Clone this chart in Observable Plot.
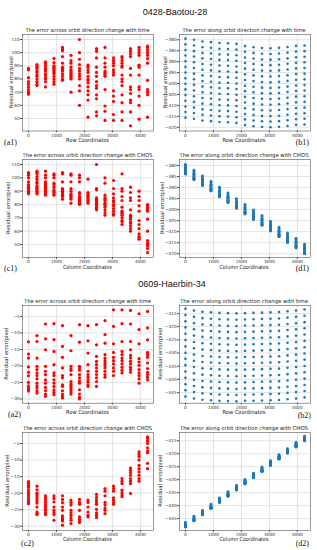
<!DOCTYPE html>
<html><head><meta charset="utf-8">
<script src="https://cdn.jsdelivr.net/npm/d3@7"></script>
<script src="https://cdn.jsdelivr.net/npm/@observablehq/plot@0.6"></script>
<style>
html,body{margin:0;padding:0;background:#fff;}
#fig{position:relative;width:317px;height:550px;overflow:hidden;background:#fff;}
#fig svg{position:absolute;}
</style></head><body><div id="fig"></div>
<script>
// ---- coordinates (row / column position of the 15 x 15 check points) ----
const coords = [0, 304, 608, 912, 1216, 1520, 1824, 2128, 2432, 2736, 3040, 3344, 3648, 3952, 4256];
const xTicks = [0, 1000, 2000, 3000, 4000];
const yTicksA1 = [50, 60, 70, 80, 90, 100, 110];
const yTicksB1 = [-380, -385, -390, -395, -400, -405, -410, -415, -420];
const yTicksA2 = [-5, -10, -15, -20, -25, -30];
const yTicksB2 = [-415, -420, -425, -430, -435, -440, -445];

// ---- 0428-Baotou-28 : across-orbit error grouped by row coordinate (a1) ----
const acrossTime1 = [
  [88, 87, 81, 78, 76, 74, 72, 70, 68.5],
  [91, 90, 89, 88, 86, 85, 83, 82, 80, 78, 76, 75],
  [93, 91.5, 90, 88, 87, 86, 84, 83, 81, 80, 78, 74],
  [95.5, 92.5, 90, 89, 88, 87, 86, 85, 84, 82, 80, 78, 76],
  [104, 103, 101.5, 97, 92, 89, 88, 87, 86, 84, 82, 80, 79],
  [98, 94, 92, 89, 87, 86, 85, 84, 83, 82, 81, 80, 70],
  [110, 100, 95, 91, 88, 86, 84, 82, 80, 75, 71, 60],
  [90.5, 89, 87, 85, 82, 80, 79, 77, 74, 71, 68, 64, 51],
  [103, 101, 96, 89, 85, 82, 78, 75, 73, 68, 65, 55, 52],
  [104, 96, 92, 89, 86, 85, 84, 83, 82, 72, 59.5, 55.5, 48.5],
  [96, 94, 92, 90, 87, 85, 83, 71, 67, 63, 53, 48.5],
  [97, 96, 94, 92, 90, 89, 83, 80, 78, 75, 68, 62, 55, 48.5],
  [103, 101, 99, 97, 88, 83, 74, 72, 69, 64, 62, 55, 44.5],
  [104, 102, 100, 98, 90.5, 89, 83, 74, 72, 67, 60, 49.5],
  [105, 104, 102, 100, 98, 95.5, 92, 79, 72, 70, 68, 51]
];
// ---- 0428-Baotou-28 : across-orbit error grouped by column coordinate (c1) ----
const acrossCmos1 = [
  [104, 103, 102, 100, 97, 95, 94, 93, 92, 91, 90, 89, 88],
  [105, 104, 103, 101, 99, 97, 96, 94, 93, 92, 91, 90, 89, 88],
  [105, 102, 100, 97, 96, 95, 94, 93, 92, 91, 90, 89, 88, 87],
  [103, 102, 100, 96, 95, 93, 91, 90, 89, 88, 87],
  [104, 103, 97, 92, 91, 90, 89, 88, 87, 86, 84],
  [103, 102, 97, 92, 90, 88, 87, 86, 85, 84, 81],
  [102, 100, 97, 89, 88, 86, 85, 84, 83, 82, 81, 80],
  [99, 89, 88, 87, 86, 85, 84, 83, 82, 81],
  [110, 92, 91, 85, 84, 83, 82, 81, 80, 79, 78, 77, 76],
  [100, 96, 87, 85, 84, 83, 81, 80, 79, 78, 76, 74, 72],
  [98, 92, 88, 85, 83, 82, 80, 79, 77, 75, 73, 72],
  [103, 92, 90, 86, 83, 78, 75, 74, 73, 72, 70, 68, 67, 65],
  [93, 89, 85, 83, 76, 72, 71, 70, 69, 67, 66, 64, 62, 60],
  [90, 86, 83, 79, 75, 68, 65, 62, 58, 56, 55, 54],
  [80, 79, 78, 77, 76, 75, 69, 60, 53, 51, 50, 49, 47, 44]
];
// ---- 0428-Baotou-28 : along-orbit error, [row index][column index] (b1, d1) ----
const alongErr1 = [
  [-379.5, -382.1, -384.7, -387.2, -389.8, -392.4, -395.0, -397.6, -400.1, -402.7, -405.3, -407.9, -410.5, -413.0, -415.6],
  [-380.0, -382.6, -385.2, -387.7, -390.3, -392.9, -395.5, -398.1, -400.6, -403.2, -405.8, -408.4, -411.0, -413.5, -416.1],
  [-380.8, -383.4, -386.0, -388.5, -391.1, -393.7, -396.3, -398.9, -401.4, -404.0, -406.6, -409.2, -411.8, -414.3, -416.9],
  [-381.1, -383.7, -386.3, -388.8, -391.4, -394.0, -396.6, -399.2, -401.7, -404.3, -406.9, -409.5, -412.1, -414.6, -417.2],
  [-381.5, -384.1, -386.7, -389.2, -391.8, -394.4, -397.0, -399.6, -402.1, -404.7, -407.3, -409.9, -412.5, -415.0, -417.6],
  [-381.6, -384.2, -386.8, -389.3, -391.9, -394.5, -397.1, -399.7, -402.2, -404.8, -407.4, -410.0, -412.6, -415.1, -417.7],
  [-381.9, -384.5, -387.1, -389.6, -392.2, -394.8, -397.4, -400.0, -402.5, -405.1, -407.7, -410.3, -412.9, -415.4, -418.0],
  [-382.9, -385.5, -388.1, -390.6, -393.2, -395.8, -398.4, -401.0, -403.5, -406.1, -408.7, -411.3, -413.9, -416.4, -419.0],
  [-383.4, -386.0, -388.6, -391.1, -393.7, -396.3, -398.9, -401.5, -404.0, -406.6, -409.2, -411.8, -414.4, -416.9, -419.5],
  [-383.8, -386.4, -389.0, -391.5, -394.1, -396.7, -399.3, -401.9, -404.4, -407.0, -409.6, -412.2, -414.8, -417.3, -419.9],
  [-383.9, -386.5, -389.1, -391.6, -394.2, -396.8, -399.4, -402.0, -404.5, -407.1, -409.7, -412.3, -414.9, -417.4, -420.0],
  [-383.7, -386.3, -388.9, -391.4, -394.0, -396.6, -399.2, -401.8, -404.3, -406.9, -409.5, -412.1, -414.7, -417.2, -419.8],
  [-383.3, -385.9, -388.5, -391.0, -393.6, -396.2, -398.8, -401.4, -403.9, -406.5, -409.1, -411.7, -414.3, -416.8, -419.4],
  [-382.8, -385.4, -388.0, -390.5, -393.1, -395.7, -398.3, -400.9, -403.4, -406.0, -408.6, -411.2, -413.8, -416.3, -418.9],
  [-382.6, -385.2, -387.8, -390.3, -392.9, -395.5, -398.1, -400.7, -403.2, -405.8, -408.4, -411.0, -413.6, -416.1, -418.7]
];

// ---- 0609-Haerbin-34 : across-orbit error grouped by row coordinate (a2) ----
const acrossTime2 = [
  [-12.7, -16.4, -17.6, -20.3, -21.9, -23, -25, -26, -26.7, -27.2, -27.6],
  [-10.8, -12.6, -17.6, -20.1, -21.1, -22.1, -22.9, -23.9, -25.2, -26, -26.7, -27.5, -28.2],
  [-7.3, -11.8, -15.1, -20.1, -21.6, -22.6, -24.2, -25.2, -26.5, -27.5, -28.5, -29.2],
  [-7.2, -12, -15.6, -19.6, -22.1, -22.9, -24.2, -25.2, -26.2, -27.2, -28, -28.7],
  [-7.8, -14.1, -17.4, -20.6, -22.9, -23.6, -25.7, -26.2, -27.5, -28.5, -29.2, -29.7],
  [-10.8, -15.4, -20.1, -20.9, -21.4, -22.6, -24.7, -25.5, -26.2, -26.7, -27.2, -27.9, -28.5],
  [-7.5, -12.8, -20.1, -20.6, -21.3, -22.6, -23.6, -24.5, -25.2, -27.2, -28.5, -29.5, -30],
  [-7.8, -12.4, -16.1, -19.6, -21.6, -22.6, -23.4, -24.2, -24.9, -25.7, -26.2],
  [-7.5, -13.6, -17.1, -18.6, -19.6, -20.6, -21.6, -22.6, -23.6, -24.7, -26.2],
  [-6.3, -10.5, -13.1, -16.6, -17.6, -18.4, -19.1, -19.8, -20.6, -21.6, -22.6, -23.4],
  [-3, -8, -13.3, -15.9, -17.4, -18.4, -19.4, -20.6, -21.6, -22.9],
  [-3, -7.2, -12.6, -15.6, -16.6, -17.6, -18.4, -19.4, -20.4, -21.3, -22.1],
  [-3.2, -7.3, -12.6, -15.1, -16.8, -17.6, -18.6, -19.4, -20.4, -21.1, -21.9],
  [-4.2, -9, -13.3, -17.8, -18.8, -19.8, -21.1, -22.1, -22.9, -23.9, -25.2],
  [-3.5, -8.5, -12.1, -15.9, -16.6, -17.4, -19.1, -20.8, -21.9, -22.6, -23.4, -24.2]
];
// ---- 0609-Haerbin-34 : across-orbit error grouped by column coordinate (c2) ----
const acrossCmos2 = [
  [-16.5, -17, -17.6, -18.2, -19, -19.6, -20.2, -20.8, -21.5, -22.2, -22.8, -23.2],
  [-17.9, -19, -20, -20.6, -21.2, -21.8, -22.4, -23, -24.2, -25.7, -26.2, -26.5],
  [-20.8, -21.4, -22.1, -22.8, -23.6, -24.2, -24.5, -25.2, -25.9, -26.5],
  [-20.8, -21.6, -22.6, -24.2, -25.2, -25.9, -26.5, -28.2],
  [-20.8, -21.9, -22.9, -24.2, -25.2, -26.9, -27.5, -28, -28.4, -29.7],
  [-22.1, -22.8, -23.6, -25.2, -26, -26.7, -27.5, -28.2, -29.2],
  [-21.9, -22.8, -23.4, -25.2, -27.2, -27.9, -28.5, -28.9],
  [-22.1, -22.8, -24.2, -25.7, -26.7, -27.2],
  [-20.4, -21.3, -22.1, -22.8, -23.4, -24.9, -26, -26.7, -27.4],
  [-18.6, -19.4, -20.8, -22.8, -23.6, -24.5, -25.2, -26.2],
  [-17.9, -18.6, -19.4, -21.4, -22.1, -22.8, -23.4],
  [-15.6, -16.4, -17.1, -19.1, -19.9, -20.6, -21.1],
  [-12.4, -13.1, -13.8, -14.6, -15.6, -16.4, -17.1, -20.1],
  [-7.5, -8.3, -9, -10, -11.6, -12.6, -13.6, -14.6, -15.6, -16.4],
  [-3, -3.5, -4.3, -5, -6.3, -7.3, -7.8, -11, -12.6]
];
// ---- 0609-Haerbin-34 : along-orbit error, [row index][column index] (b2, d2) ----
const alongErr2 = [
  [-446.5, -444.1, -441.8, -439.4, -437.0, -434.6, -432.2, -429.9, -427.5, -425.1, -422.7, -420.3, -418.0, -415.6, -413.2],
  [-447.2, -444.8, -442.5, -440.1, -437.7, -435.3, -432.9, -430.6, -428.2, -425.8, -423.4, -421.0, -418.7, -416.3, -413.9],
  [-447.7, -445.3, -443.0, -440.6, -438.2, -435.8, -433.4, -431.1, -428.7, -426.3, -423.9, -421.5, -419.2, -416.8, -414.4],
  [-447.9, -445.5, -443.2, -440.8, -438.4, -436.0, -433.6, -431.3, -428.9, -426.5, -424.1, -421.7, -419.4, -417.0, -414.6],
  [-448.1, -445.7, -443.4, -441.0, -438.6, -436.2, -433.8, -431.5, -429.1, -426.7, -424.3, -421.9, -419.6, -417.2, -414.8],
  [-448.2, -445.8, -443.5, -441.1, -438.7, -436.3, -433.9, -431.6, -429.2, -426.8, -424.4, -422.0, -419.7, -417.3, -414.9],
  [-448.3, -445.9, -443.6, -441.2, -438.8, -436.4, -434.0, -431.7, -429.3, -426.9, -424.5, -422.1, -419.8, -417.4, -415.0],
  [-448.1, -445.8, -443.4, -441.1, -438.7, -436.3, -433.9, -431.5, -429.2, -426.8, -424.4, -422.0, -419.6, -417.3, -414.9],
  [-448.1, -445.7, -443.4, -441.0, -438.6, -436.2, -433.8, -431.5, -429.1, -426.7, -424.3, -421.9, -419.6, -417.2, -414.8],
  [-448.0, -445.6, -443.3, -440.9, -438.5, -436.1, -433.7, -431.4, -429.0, -426.6, -424.2, -421.8, -419.5, -417.1, -414.7],
  [-447.9, -445.5, -443.2, -440.8, -438.4, -436.0, -433.6, -431.3, -428.9, -426.5, -424.1, -421.7, -419.4, -417.0, -414.6],
  [-447.8, -445.4, -443.1, -440.7, -438.3, -435.9, -433.5, -431.2, -428.8, -426.4, -424.0, -421.6, -419.3, -416.9, -414.5],
  [-447.5, -445.1, -442.8, -440.4, -438.0, -435.6, -433.2, -430.9, -428.5, -426.1, -423.7, -421.3, -419.0, -416.6, -414.2],
  [-447.2, -444.8, -442.5, -440.1, -437.7, -435.3, -432.9, -430.6, -428.2, -425.8, -423.4, -421.0, -418.7, -416.3, -413.9],
  [-446.8, -444.4, -442.1, -439.7, -437.3, -434.9, -432.5, -430.2, -427.8, -425.4, -423.0, -420.6, -418.3, -415.9, -413.5]
];

// ---- text ----
const supTitles = ["0428-Baotou-28", "0609-Haerbin-34"];
const tTime = { across: "The error across orbit direction change with time", along: "The error along orbit direction change with time" };
const tCmos = { across: "The error across orbit direction change with CMOS", along: "The error along orbit direction change with CMOS" };
const yLabel = "Residual error/pixel";

// ---- build tables ----
const byGroup = lists => lists.flatMap((vals, i) => vals.map(v => ({x: coords[i], y: v})));
const byRow = m => m.flatMap((row, r) => row.map(v => ({x: coords[r], y: v})));
const byCol = m => m.flatMap((row, r) => row.map((v, c) => ({x: coords[c], y: v})));

const RED = "#ff0000", BLUE = "#1f77b4";
const L = 22, R = 178.5, W = 131;
const panels = [
  {x0: L, y0: 34, y1: 130.5, yDom: [40.5, 113.8], yT: yTicksA1, data: byGroup(acrossTime1), fill: RED, r: 1.6,
   title: tTime.across, tl: 124, xl: "Row Coordinates", tag: "(a1)", tagX: 4, tagY: 145, tagA: "start", ylx: 11},
  {x0: R, y0: 34, y1: 130.5, yDom: [-421.7, -377.6], yT: yTicksB1, data: byRow(alongErr1), fill: BLUE, r: 1.3,
   title: tTime.along, tl: 123, xl: "Row Coordinates", tag: "(b1)", tagX: 309, tagY: 145, tagA: "end", ylx: 165.5},
  {x0: L, y0: 159, y1: 257, yDom: [40.25, 113.75], yT: yTicksA1, data: byGroup(acrossCmos1), fill: RED, r: 1.6,
   title: tCmos.across, tl: 130, xl: "Column Coordinates", tag: "(c1)", tagX: 4, tagY: 271, tagA: "start", ylx: 8},
  {x0: R, y0: 159, y1: 257, yDom: [-421.7, -377.3], yT: yTicksB1, data: byCol(alongErr1), fill: BLUE, r: 1.4,
   title: tCmos.along, tl: 129, xl: "Column Coordinates", tag: "(d1)", tagX: 309, tagY: 271, tagA: "end", ylx: 162},
  {x0: L, y0: 304.8, y1: 402.5, yDom: [-31.27, -1.7], yT: yTicksA2, data: byGroup(acrossTime2), fill: RED, r: 1.6,
   title: tTime.across, tl: 127, xl: "Row Coordinates", tag: "(a2)", tagX: 8, tagY: 416.5, tagA: "start", ylx: 6.5},
  {x0: R, y0: 304.8, y1: 402.5, yDom: [-449, -412.0], yT: yTicksB2, data: byRow(alongErr2), fill: BLUE, r: 1.3,
   title: tTime.along, tl: 128, xl: "Row Coordinates", tag: "(b2)", tagX: 311, tagY: 418, tagA: "end", ylx: 160},
  {x0: L, y0: 431.7, y1: 529.7, yDom: [-31.3, -1.67], yT: yTicksA2, data: byGroup(acrossCmos2), fill: RED, r: 1.6,
   title: tCmos.across, tl: 129, xl: "Column Coordinates", tag: "(c2)", tagX: 21, tagY: 546, tagA: "start", ylx: 7.5},
  {x0: R, y0: 431.7, y1: 529.7, yDom: [-449.6, -411.8], yT: yTicksB2, data: byCol(alongErr2), fill: BLUE, r: 1.4,
   title: tCmos.along, tl: 128, xl: "Column Coordinates", tag: "(d2)", tagX: 309, tagY: 546, tagA: "end", ylx: 160}
];

const fig = document.getElementById("fig");
const fmt = d3.format("d");
const mL = 20, mR = 3, mT = 2, mB = 9;

for (const p of panels) {
  const h = p.y1 - p.y0;
  const svg = Plot.plot({
    width: W + mL + mR, height: h + mT + mB,
    marginLeft: mL, marginRight: mR, marginTop: mT, marginBottom: mB,
    style: {background: "transparent", fontSize: "4.3px", fontFamily: "DejaVu Sans, sans-serif", color: "#333", overflow: "visible"},
    x: {domain: [-213, 4469], ticks: xTicks, tickFormat: fmt, tickSize: 1.8, tickPadding: 1, label: null},
    y: {domain: p.yDom, ticks: p.yT, tickFormat: fmt, tickSize: 1.8, tickPadding: 1, label: null},
    marks: [
      Plot.ruleX(xTicks, {stroke: "#d0d0d0", strokeWidth: 0.6}),
      Plot.ruleY(p.yT, {stroke: "#d0d0d0", strokeWidth: 0.6}),
      Plot.dot(p.data, {x: "x", y: "y", r: p.r, fill: p.fill, stroke: "none"}),
      Plot.frame({stroke: "#555", strokeWidth: 0.6})
    ]
  });
  svg.style.position = "absolute";
  svg.style.left = (p.x0 - mL) + "px";
  svg.style.top = (p.y0 - mT) + "px";
  fig.appendChild(svg);
}

// ---- text overlay ----
const ov = d3.select(fig).append("svg")
  .attr("width", 317).attr("height", 550)
  .style("left", "0px").style("top", "0px").style("pointer-events", "none");

ov.append("text").attr("x", 175).attr("y", 15).attr("text-anchor", "middle")
  .attr("font-family", "Liberation Sans, Arial, sans-serif").attr("font-size", 9).attr("fill", "#111").text(supTitles[0]);
ov.append("text").attr("x", 172).attr("y", 287).attr("text-anchor", "middle")
  .attr("font-family", "Liberation Sans, Arial, sans-serif").attr("font-size", 9).attr("fill", "#111").text(supTitles[1]);

for (const p of panels) {
  const cx = p.x0 + W / 2;
  ov.append("text").attr("x", cx).attr("y", p.y0 - 2).attr("text-anchor", "middle")
    .attr("font-family", "DejaVu Sans, sans-serif").attr("font-size", 5.3).attr("fill", "#222")
    .attr("textLength", p.tl).attr("lengthAdjust", "spacingAndGlyphs").text(p.title);
  ov.append("text").attr("x", cx).attr("y", p.y1 + 11.5).attr("text-anchor", "middle")
    .attr("font-family", "DejaVu Sans, sans-serif").attr("font-size", 5.6).attr("fill", "#222")
    .attr("textLength", p.xl.length > 16 ? 49 : 43).attr("lengthAdjust", "spacingAndGlyphs").text(p.xl);
  const cy = (p.y0 + p.y1) / 2;
  ov.append("text").attr("transform", `translate(${p.ylx},${cy}) rotate(-90)`).attr("dy", "0.35em").attr("text-anchor", "middle")
    .attr("font-family", "DejaVu Sans, sans-serif").attr("font-size", 5.2).attr("fill", "#222")
    .attr("textLength", 52).attr("lengthAdjust", "spacingAndGlyphs").text(yLabel);
  ov.append("text").attr("x", p.tagX).attr("y", p.tagY).attr("text-anchor", p.tagA)
    .attr("font-family", "Liberation Serif, Times New Roman, serif").attr("font-size", 8).attr("fill", "#111").text(p.tag);
}
</script></body></html>
